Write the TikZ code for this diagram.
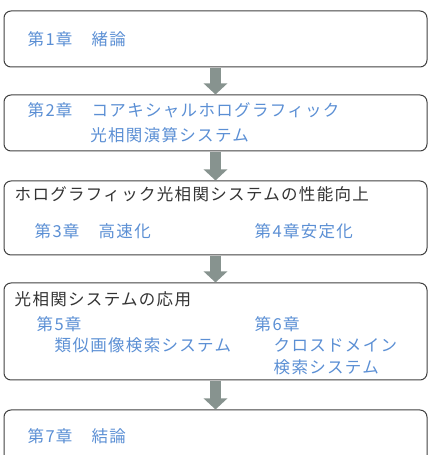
\documentclass[tikz,border=0pt]{standalone}
\usepackage{fontspec}
\setmainfont{Noto Sans CJK JP}[LetterSpace=8]
\usetikzlibrary{arrows.meta,positioning}
\definecolor{chBlue}{HTML}{5B8FD4}
\definecolor{chFrame}{HTML}{404040}
\definecolor{chArrow}{HTML}{87938F}
\definecolor{chText}{HTML}{333333}

\begin{document}
\begin{tikzpicture}[x=1pt,y=1pt,chap/.style={draw=chFrame,line width=1pt,rounded corners=7pt,minimum width=423pt,inner sep=0pt},lbl/.style={text=chBlue,font=\fontsize{16.5}{25}\selectfont,align=left,inner sep=0pt,anchor=west},head/.style={text=chText,font=\fontsize{16.5}{25}\selectfont,inner sep=0pt,anchor=west},flow/.style={line width=11pt,draw=chArrow,shorten <=.5pt,-{Triangle[width=23pt,length=11pt]}}]
\useasboundingbox (0,0) rectangle (430,455);
\clip (0,0) rectangle (430,455);
% chapter boxes
\node[chap,minimum height=56pt] (b1) at (215.5,416) {};
\node[chap,minimum height=56pt,below=27pt of b1] (b2) {};
\node[chap,minimum height=74pt,below=29pt of b2] (b3) {};
\node[chap,minimum height=97pt,below=27pt of b3] (b4) {};
\node[chap,minimum height=60pt,below=29pt of b4] (b5) {};
% texts
\node[lbl] (c1) at ([shift={(24,-29)}]b1.north west) {第1章　緒論};
\node[lbl] (c2) at ([shift={(24,-28.5)}]b2.north west) {第2章　コアキシャルホログラフィック\\\hphantom{第2章　}光相関演算システム};
\node[head] (h3) at ([shift={(11,-14)}]b3.north west) {ホログラフィック光相関システムの性能向上};
\node[lbl] (c3) at ([shift={(31,-51)}]b3.north west) {第3章　高速化};
\node[lbl] (c4) at ([shift={(251,-51)}]b3.north west) {第4章安定化};
\node[head] (h4) at ([shift={(11,-17)}]b4.north west) {光相関システムの応用};
\node[lbl] (c5) at ([shift={(33,-42)}]b4.north west) {第5章};
\node[lbl] (c5t) at ([shift={(51,-63)}]b4.north west) {類似画像検索システム};
\node[lbl] (c6) at ([shift={(251,-42)}]b4.north west) {第6章};
\node[lbl,font=\fontsize{16.5}{22}\selectfont] (c6t) at ([shift={(270,-74)}]b4.north west) {クロスドメイン\\検索システム};
\node[lbl] (c7) at ([shift={(24,-27)}]b5.north west) {第7章　結論};
% flow arrows
\draw[flow] (b1.south) -- (b2.north);
\draw[flow] (b2.south) -- (b3.north);
\draw[flow] (b3.south) -- (b4.north);
\draw[flow] (b4.south) -- (b5.north);
\end{tikzpicture}
\end{document}
